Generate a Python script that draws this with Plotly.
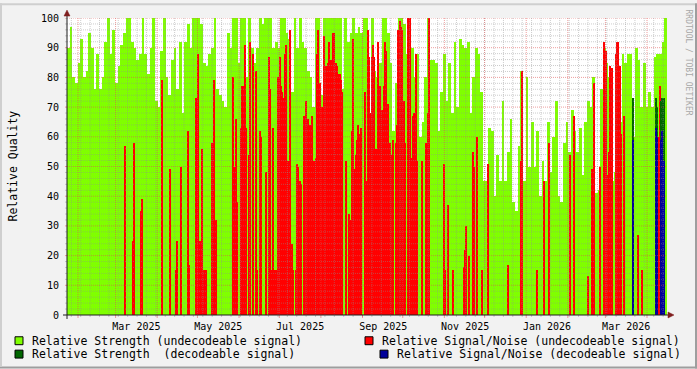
import plotly.graph_objects as go
import pandas as pd

# ---------------- data ----------------
START = "2025-01-23 19:15"
END = "2026-04-15 21:40"

# Relative Strength (undecodeable) - 2-day consolidated samples (225)
strength_undecodeable = [
    90, 97, 80, 78, 85, 93, 80, 82, 95, 90,
    76, 88, 76, 80, 92, 100, 88, 96, 78, 84,
    91, 95, 100, 100, 92, 90, 86, 88, 100, 88,
    81, 90, 100, 72, 70, 89, 100, 80, 74, 86,
    90, 76, 92, 68, 92, 98, 90, 100, 100, 100,
    98, 85, 84, 88, 90, 100, 76, 74, 72, 70,
    95, 90, 100, 100, 85, 100, 100, 80, 100, 90,
    85, 90, 100, 98, 100, 100, 100, 90, 92, 90,
    100, 100, 95, 93, 75, 100, 90, 100, 92, 90,
    82, 80, 70, 100, 100, 74, 100, 100, 100, 100,
    100, 100, 100, 76, 100, 92, 95, 100, 95, 97,
    95, 100, 100, 59, 100, 82, 80, 85, 100, 100,
    95, 85, 62, 78, 100, 100, 98, 88, 100, 90,
    80, 88, 60, 65, 80, 100, 86, 86, 85, 62,
    75, 88, 72, 85, 68, 92, 70, 93, 91, 90,
    92, 68, 80, 90, 88, 75, 45, 45, 63, 62,
    40, 54, 45, 72, 45, 55, 66, 38, 35, 57,
    82, 45, 80, 50, 65, 50, 62, 40, 52, 45,
    65, 48, 60, 72, 40, 38, 58, 65, 55, 69,
    62, 55, 63, 47, 65, 72, 70, 80, 41, 42,
    76, 90, 85, 80, 45, 48, 92, 65, 88, 85,
    88, 88, 60, 90, 86, 70, 85, 70, 75, 70,
    87, 88, 88, 92, 100,
]

# Relative Signal/Noise (undecodeable) - daily samples (450)
snr_undecodeable = [
    0, 0, 0, 0, 0, 0, 0, 0, 0, 0, 0, 0, 0, 0, 0, 0, 0, 0, 0, 0,
    0, 0, 0, 0, 0, 0, 0, 0, 0, 0, 0, 0, 0, 0, 0, 0, 0, 0, 0, 0,
    0, 0, 0, 57, 0, 0, 0, 0, 0, 25, 58, 0, 0, 0, 0, 35, 39, 0, 0, 0,
    0, 0, 0, 0, 0, 0, 0, 0, 0, 0, 0, 79, 0, 0, 0, 0, 0, 49, 0, 0,
    0, 15, 25, 0, 0, 50, 0, 0, 0, 0, 62, 17, 0, 0, 0, 0, 73, 63, 88, 25,
    0, 56, 15, 0, 15, 0, 0, 0, 58, 58, 79, 32, 0, 0, 0, 0, 0, 0, 0, 0,
    0, 0, 0, 0, 80, 50, 66, 38, 0, 0, 63, 77, 77, 91, 63, 0, 54, 92, 0, 88,
    0, 82, 15, 0, 62, 60, 0, 0, 0, 48, 0, 87, 76, 15, 63, 15, 15, 0, 80, 87,
    77, 75, 73, 88, 91, 52, 0, 96, 24, 15, 0, 15, 51, 50, 45, 44, 0, 67, 61, 72,
    66, 57, 64, 67, 0, 52, 53, 88, 96, 78, 65, 70, 94, 82, 84, 85, 92, 86, 86, 95,
    95, 85, 84, 81, 81, 79, 75, 0, 0, 52, 0, 34, 32, 62, 93, 49, 54, 59, 64, 61,
    63, 0, 0, 75, 45, 96, 87, 68, 87, 91, 87, 56, 56, 92, 77, 63, 69, 77, 92, 89,
    71, 0, 58, 54, 59, 0, 58, 64, 96, 99, 97, 96, 72, 58, 0, 100, 100, 100, 53, 67,
    68, 88, 52, 0, 0, 0, 52, 0, 0, 58, 68, 100, 0, 0, 0, 0, 0, 0, 0, 0,
    0, 0, 51, 15, 0, 37, 0, 0, 0, 15, 0, 0, 0, 0, 0, 0, 0, 16, 22, 30,
    0, 20, 0, 0, 55, 50, 0, 60, 0, 0, 0, 15, 0, 0, 0, 51, 0, 0, 0, 0,
    0, 0, 0, 0, 0, 0, 0, 0, 0, 0, 17, 0, 0, 0, 0, 0, 0, 0, 0, 0,
    52, 82, 0, 0, 0, 0, 0, 0, 0, 0, 0, 0, 15, 0, 0, 0, 0, 45, 0, 0,
    0, 58, 0, 0, 0, 0, 0, 0, 0, 0, 0, 0, 0, 0, 0, 0, 0, 54, 0, 0,
    67, 0, 0, 0, 0, 0, 0, 0, 0, 0, 13, 0, 0, 49, 15, 78, 0, 0, 0, 50,
    0, 0, 92, 89, 89, 47, 55, 84, 83, 0, 0, 88, 92, 92, 84, 61, 0, 67, 0, 0,
    0, 0, 0, 0, 0, 0, 0, 0, 27, 0, 0, 15, 0, 0, 0, 0, 0, 0, 0, 0,
    0, 0, 0, 60, 77, 0, 0, 0, 0, 0,
]

# Decodeable series - daily samples (450), only present at the very end
strength_decodeable = [0] * 424 + [73] + [0] * 16 + [73, 70, 0, 0, 72, 73, 73, 0, 0]
snr_decodeable = [0] * 424 + [59] + [0] * 16 + [63, 60, 0, 0, 59, 62, 52, 0, 0]

y_ticks = [0, 10, 20, 30, 40, 50, 60, 70, 80, 90, 100]
x_label_months = ["2025-03-01", "2025-05-01", "2025-07-01", "2025-09-01",
                  "2025-11-01", "2026-01-01", "2026-03-01"]
x_label_text = ["Mar 2025", "May 2025", "Jul 2025", "Sep 2025",
                "Nov 2025", "Jan 2026", "Mar 2026"]

# ---------------- geometry helpers ----------------
W, H = 697, 369
L, R, T, B = 67, 30, 15, 54
PW, PH = W - L - R, H - T - B


def px(xp):
    return (xp - L) / PW


def py(yp):
    return (T + PH - yp) / PH


def bins(n):
    e = pd.date_range(START, END, periods=n + 1)
    step = e[1] - e[0]
    return e[:-1] + step / 2, step.total_seconds() * 1000, e


x2, w2, edges = bins(len(strength_undecodeable))
x1, w1, _ = bins(len(snr_undecodeable))

fig = go.Figure()
series = [
    ("Relative Strength (undecodeable signal)", x2, w2, strength_undecodeable, "#80FF00"),
    ("Relative Signal/Noise (undecodeable signal)", x1, w1, snr_undecodeable, "#FF0000"),
    ("Relative Strength  (decodeable signal)", x1, w1, strength_decodeable, "#006600"),
    ("Relative Signal/Noise (decodeable signal)", x1, w1, snr_decodeable, "#000099"),
]
for name, xs, w, vals, col in series:
    fig.add_trace(go.Bar(x=xs, y=vals, width=w, name=name,
                         marker=dict(color=col, line=dict(width=0)),
                         showlegend=False, hoverinfo="skip"))

MGRID = "rgba(222,79,79,0.55)"
GRID = "rgba(143,143,143,0.45)"
shapes = []
for v in range(2, 101, 2):
    major = v % 10 == 0
    shapes.append(dict(type="line", xref="paper", yref="y", x0=0, x1=1, y0=v, y1=v,
                       layer="above",
                       line=dict(color=MGRID if major else GRID, width=1, dash="1px,1px")))
    shapes.append(dict(type="line", xref="paper", yref="y", x0=px(L - 2), x1=0, y0=v, y1=v,
                       layer="above", line=dict(color=MGRID if major else GRID, width=1)))
weeks = pd.date_range("2025-01-27", "2026-04-13", freq="W-MON")
months = pd.date_range("2025-02-01", "2026-04-01", freq="MS")
for d in weeks:
    shapes.append(dict(type="line", xref="x", yref="paper", x0=d, x1=d, y0=0, y1=1,
                       layer="above", line=dict(color=GRID, width=1, dash="1px,1px")))
    shapes.append(dict(type="line", xref="x", yref="paper", x0=d, x1=d, y0=py(T + PH + 2), y1=0,
                       layer="above", line=dict(color=GRID, width=1)))
for d in months:
    shapes.append(dict(type="line", xref="x", yref="paper", x0=d, x1=d, y0=0, y1=1,
                       layer="above", line=dict(color=MGRID, width=1, dash="1px,1px")))
    shapes.append(dict(type="line", xref="x", yref="paper", x0=d, x1=d, y0=py(T + PH + 3), y1=0,
                       layer="above", line=dict(color=MGRID, width=1)))

AX = "#1F1F1F"
ARROW = "#801F1F"
shapes.append(dict(type="line", xref="paper", yref="paper", x0=px(L - 4), x1=px(L + PW + 2),
                   y0=0, y1=0, layer="above", line=dict(color=AX, width=1)))
shapes.append(dict(type="line", xref="paper", yref="paper", x0=0, x1=0,
                   y0=py(T + PH + 4), y1=py(T - 3), layer="above", line=dict(color=AX, width=1)))
xa = L + PW
shapes.append(dict(type="path", xref="paper", yref="paper", layer="above",
                   path=f"M {px(xa+1)} {py(T+PH-3)} L {px(xa+7)} {py(T+PH)} L {px(xa+1)} {py(T+PH+3)} Z",
                   fillcolor=ARROW, line=dict(color=ARROW, width=0.5)))
shapes.append(dict(type="path", xref="paper", yref="paper", layer="above",
                   path=f"M {px(L-3)} {py(T-2)} L {px(L)} {py(T-8)} L {px(L+3)} {py(T-2)} Z",
                   fillcolor=ARROW, line=dict(color=ARROW, width=0.5)))
shapes.append(dict(type="rect", xref="paper", yref="paper", x0=px(0), x1=px(W), y0=py(H - 2), y1=py(H),
                   fillcolor="#9E9E9E", line=dict(width=0), layer="above"))
shapes.append(dict(type="rect", xref="paper", yref="paper", x0=px(W - 2), x1=px(W), y0=py(H), y1=py(0),
                   fillcolor="#9E9E9E", line=dict(width=0), layer="above"))
shapes.append(dict(type="rect", xref="paper", yref="paper", x0=px(0), x1=px(W - 2), y0=py(2), y1=py(0),
                   fillcolor="#CFCFCF", line=dict(width=0), layer="above"))
shapes.append(dict(type="rect", xref="paper", yref="paper", x0=px(0), x1=px(2), y0=py(H - 2), y1=py(0),
                   fillcolor="#CFCFCF", line=dict(width=0), layer="above"))

FONT = "DejaVu Sans Mono"
annotations = []
legend_pos = [(15, 341, 30), (365, 341, 380), (15, 354.5, 30), (380, 354.5, 395)]
for (name, _xs, _w, _vals, col), (sx, sy, tx) in zip(series, legend_pos):
    shapes.append(dict(type="rect", xref="paper", yref="paper",
                       x0=px(sx), x1=px(sx + 8), y0=py(sy + 4), y1=py(sy - 4),
                       fillcolor=col, line=dict(color="#000000", width=1)))
    annotations.append(dict(xref="paper", yref="paper", x=px(tx), y=py(sy), text=name,
                            showarrow=False, xanchor="left", yanchor="middle",
                            font=dict(family=FONT, size=11.5, color="#000000")))

annotations.append(dict(xref="paper", yref="paper", x=px(12), y=0.5, text="Relative Quality",
                        textangle=-90, showarrow=False, xanchor="center", yanchor="middle",
                        font=dict(family=FONT, size=11.5, color="#000000")))
annotations.append(dict(xref="paper", yref="paper", x=px(688), y=py(60), text="RRDTOOL / TOBI OETIKER",
                        textangle=90, showarrow=False, xanchor="center", yanchor="middle",
                        font=dict(family=FONT, size=8, color="#A8A8A8")))

label_pos = [pd.Timestamp(m) + pd.Timedelta(hours=15.5 * 24) for m in x_label_months]

fig.update_layout(
    width=W, height=H,
    margin=dict(l=L, r=R, t=T, b=B, pad=0),
    paper_bgcolor="#F2F2F2", plot_bgcolor="#FFFFFF",
    barmode="overlay", bargap=0,
    shapes=shapes, annotations=annotations,
    font=dict(family=FONT, size=10, color="#000000"),
    xaxis=dict(type="date", range=[edges[0], edges[-1]], showgrid=False, zeroline=False,
               showline=False, tickmode="array", tickvals=label_pos, ticktext=x_label_text,
               ticks="outside", ticklen=2, tickcolor="rgba(0,0,0,0)",
               tickfont=dict(family=FONT, size=10, color="#000000")),
    yaxis=dict(range=[0, 100], showgrid=False, zeroline=False, showline=False,
               tickmode="array", tickvals=y_ticks, ticktext=[str(v) for v in y_ticks],
               ticks="outside", ticklen=5, tickcolor="rgba(0,0,0,0)",
               tickfont=dict(family=FONT, size=10, color="#000000")),
)

fig.write_html("out.html")
